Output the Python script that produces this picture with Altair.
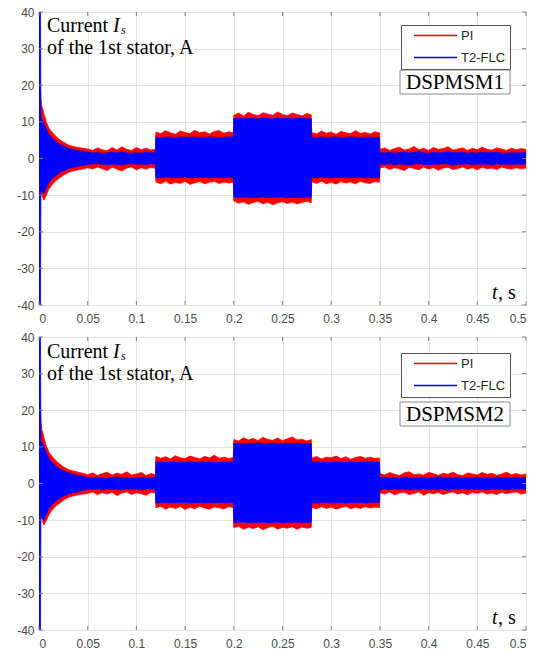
import altair as alt
import pandas as pd

# ---------------- data ----------------
# sample times, s (start transient, low load, mid load, high load, mid load, low load)
T = [0, 0.0015, 0.002, 0.003, 0.004, 0.005, 0.0075, 0.01, 0.0125, 0.015, 0.0175, 0.02, 0.0225, 0.025, 0.0275, 0.03, 0.035, 0.04, 0.045,
     0.05, 0.055, 0.06, 0.065, 0.07, 0.075, 0.08, 0.085, 0.09, 0.095, 0.1, 0.105, 0.11, 0.115, 0.1195,
     0.12, 0.125, 0.13, 0.135, 0.14, 0.145, 0.15, 0.155, 0.16, 0.165, 0.17, 0.175, 0.18, 0.185, 0.19, 0.195, 0.1995,
     0.2, 0.205, 0.21, 0.215, 0.22, 0.225, 0.23, 0.235, 0.24, 0.245, 0.25, 0.255, 0.26, 0.265, 0.27, 0.275, 0.2795,
     0.28, 0.285, 0.29, 0.295, 0.3, 0.305, 0.31, 0.315, 0.32, 0.325, 0.33, 0.335, 0.34, 0.345, 0.3495,
     0.35, 0.355, 0.36, 0.365, 0.37, 0.375, 0.38, 0.385, 0.39, 0.395, 0.4, 0.405, 0.41, 0.415, 0.42, 0.425,
     0.43, 0.435, 0.44, 0.445, 0.45, 0.455, 0.46, 0.465, 0.47, 0.475, 0.48, 0.485, 0.49, 0.495, 0.5]

# DSPMSM1 - envelope of the stator current, A
PI_HI_1 = [18, 18, 16, 14, 13.5, 12.2, 10, 8.4, 7.5, 6.7, 6.0, 5.4, 4.9, 4.5, 4.1, 3.7, 3.3, 3.0, 2.8,
           2.6, 2.2, 2.9, 2.4, 2.1, 3.0, 2.3, 3.2, 2.5, 2.2, 3.0, 2.4, 2.8, 2.3, 2.5,
           7.2, 6.8, 7.6, 7.0, 6.6, 7.5, 7.1, 6.8, 7.7, 7.0, 7.3, 6.7, 7.4, 7.6, 6.9, 7.3, 7.0,
           11.8, 12.4, 11.6, 12.6, 12.0, 11.7, 12.5, 12.1, 11.8, 12.7, 12.0, 11.7, 12.4, 12.0, 11.6, 12.3, 11.9,
           7.1, 6.7, 7.5, 6.9, 7.2, 6.6, 7.4, 7.0, 6.8, 7.6, 6.9, 7.1, 6.7, 7.3, 7.0,
           2.5, 2.9, 2.2, 2.7, 3.1, 2.3, 2.6, 3.3, 2.4, 2.8, 2.2, 3.0, 2.5, 2.7, 3.2, 2.3,
           2.6, 2.9, 2.2, 2.8, 2.4, 3.1, 2.5, 2.3, 2.9, 2.6, 2.2, 2.8, 2.4, 2.7, 2.5]
PI_LO_1 = [-8, -8, -9, -10, -10.8, -11.4, -10, -8.4, -7.5, -6.7, -6.0, -5.5, -5.0, -4.6, -4.2, -3.8, -3.4, -3.1, -2.9,
           -2.5, -2.9, -2.3, -2.8, -3.3, -2.4, -2.9, -3.4, -2.6, -2.3, -3.1, -2.5, -2.9, -2.4, -2.7,
           -6.4, -6.9, -6.2, -7.0, -6.5, -6.8, -6.2, -7.1, -6.6, -6.3, -6.9, -6.5, -6.2, -6.8, -6.4, -6.7, -6.5,
           -11.6, -12.2, -11.8, -12.5, -12.0, -11.7, -12.4, -11.9, -12.6, -12.1, -11.8, -12.3, -11.9, -12.4, -12.0, -11.7, -12.1,
           -6.3, -6.8, -6.2, -6.9, -6.5, -7.0, -6.3, -6.7, -6.4, -6.9, -6.2, -6.6, -6.8, -6.3, -6.5,
           -2.6, -2.3, -3.0, -2.5, -2.8, -3.3, -2.4, -2.7, -3.1, -2.3, -2.9, -2.5, -3.2, -2.6, -2.4, -3.0,
           -2.7, -2.3, -2.9, -2.5, -3.1, -2.4, -2.8, -2.6, -3.0, -2.3, -2.7, -2.9, -2.5, -2.8, -2.6]
FLC_HI_1 = [40, 40, 11, 10.5, 10.2, 9.6, 8.0, 6.6, 5.8, 5.1, 4.6, 4.1, 3.7, 3.4, 3.1, 2.8, 2.4, 2.1, 1.9,
            1.7, 1.5, 1.6, 1.4, 1.5, 1.7, 1.5, 1.8, 1.5, 1.4, 1.6, 1.5, 1.7, 1.5, 1.6,
            5.8, 5.7, 5.9, 5.8, 5.7, 5.9, 5.8, 5.8, 5.9, 5.7, 5.8, 5.9, 5.8, 5.7, 5.8, 5.9, 5.8,
            10.9, 11.0, 10.8, 11.0, 10.9, 10.8, 11.1, 10.9, 10.8, 11.0, 10.9, 11.0, 10.8, 10.9, 11.0, 10.9, 10.8,
            5.8, 5.7, 5.9, 5.7, 5.8, 5.9, 5.7, 5.8, 5.9, 5.8, 5.7, 5.8, 5.9, 5.7, 5.8,
            1.6, 1.5, 1.7, 1.4, 1.6, 1.8, 1.5, 1.6, 1.9, 1.5, 1.4, 1.7, 1.5, 1.6, 2.0, 1.5,
            1.6, 1.7, 1.4, 1.6, 1.5, 1.8, 1.5, 1.6, 1.7, 1.5, 1.4, 1.6, 1.5, 1.6, 1.5]
FLC_LO_1 = [-40, -40, -8, -9, -9.4, -9.5, -8.0, -6.6, -5.8, -5.1, -4.6, -4.1, -3.7, -3.4, -3.1, -2.8, -2.4, -2.1, -1.9,
            -1.6, -1.5, -1.4, -1.6, -1.7, -1.5, -1.6, -1.8, -1.5, -1.4, -1.6, -1.5, -1.6, -1.4, -1.5,
            -5.2, -5.3, -5.1, -5.2, -5.3, -5.2, -5.1, -5.3, -5.2, -5.2, -5.1, -5.3, -5.2, -5.2, -5.3, -5.1, -5.2,
            -10.6, -10.7, -10.5, -10.6, -10.7, -10.6, -10.5, -10.7, -10.6, -10.6, -10.5, -10.7, -10.6, -10.6, -10.7, -10.5, -10.6,
            -5.2, -5.3, -5.1, -5.2, -5.3, -5.2, -5.1, -5.3, -5.2, -5.2, -5.1, -5.3, -5.2, -5.2, -5.3,
            -1.5, -1.6, -1.4, -1.7, -1.5, -1.6, -1.8, -1.5, -1.4, -1.6, -1.7, -1.5, -1.6, -1.4, -1.5, -1.9,
            -1.5, -1.6, -1.4, -1.7, -1.5, -1.6, -1.5, -1.8, -1.4, -1.6, -1.5, -1.7, -1.5, -1.6, -1.5]

# DSPMSM2
PI_HI_2 = [20, 20, 17, 14.5, 13.8, 12.6, 10.3, 8.7, 7.7, 6.9, 6.2, 5.6, 5.1, 4.6, 4.2, 3.8, 3.4, 3.1, 2.8,
           2.4, 2.9, 2.2, 2.7, 3.1, 2.3, 2.8, 2.5, 3.2, 2.3, 2.6, 3.0, 2.2, 2.7, 2.4,
           7.4, 6.9, 7.3, 6.7, 7.6, 7.0, 6.8, 7.5, 7.1, 6.7, 7.4, 7.0, 7.7, 6.9, 7.2, 6.8, 7.1,
           12.0, 11.6, 12.5, 11.9, 12.3, 11.7, 12.6, 12.0, 11.8, 12.4, 11.7, 12.2, 12.7, 11.9, 12.1, 11.6, 12.0,
           6.9, 7.4, 6.7, 7.2, 7.0, 7.5, 6.8, 7.3, 6.6, 7.1, 7.4, 6.9, 7.2, 6.8, 7.0,
           2.7, 2.3, 3.0, 2.5, 2.2, 2.9, 3.2, 2.4, 2.6, 2.3, 3.0, 2.7, 2.2, 2.8, 2.5, 3.1,
           2.4, 2.2, 2.9, 2.6, 2.3, 3.0, 2.5, 2.8, 2.2, 2.6, 3.1, 2.4, 2.7, 2.3, 2.6]
PI_LO_2 = [-7, -7, -8.5, -9.8, -10.6, -11.3, -10.2, -8.6, -7.6, -6.8, -6.1, -5.6, -5.1, -4.6, -4.2, -3.8, -3.4, -3.1, -2.9,
           -2.7, -2.3, -3.0, -2.5, -2.9, -2.4, -3.3, -2.6, -2.3, -3.0, -2.5, -2.8, -3.2, -2.4, -2.6,
           -6.6, -6.2, -7.0, -6.4, -6.8, -6.3, -7.1, -6.5, -6.9, -6.2, -6.7, -7.0, -6.4, -6.6, -6.9, -6.3, -6.6,
           -12.1, -11.7, -12.5, -11.9, -12.3, -11.8, -12.6, -12.0, -11.7, -12.4, -12.0, -12.2, -11.8, -12.5, -11.9, -12.2, -12.0,
           -6.5, -6.9, -6.3, -6.8, -6.4, -7.0, -6.6, -6.2, -6.9, -6.5, -6.8, -6.3, -6.7, -6.4, -6.6,
           -2.5, -2.9, -2.3, -3.1, -2.6, -2.4, -3.0, -2.7, -2.3, -3.2, -2.5, -2.8, -2.4, -3.0, -2.6, -2.3,
           -2.9, -2.5, -3.1, -2.4, -2.7, -2.3, -2.9, -2.6, -3.0, -2.4, -2.8, -2.5, -2.3, -2.9, -2.6]
FLC_HI_2 = [40, 40, 11.5, 11, 10.8, 10.2, 8.4, 6.9, 6.0, 5.3, 4.7, 4.2, 3.8, 3.5, 3.2, 2.9, 2.5, 2.2, 1.9,
            1.6, 1.5, 1.7, 1.5, 1.4, 1.6, 1.8, 1.5, 1.6, 1.4, 1.5, 1.7, 1.5, 1.6, 1.5,
            5.9, 5.8, 5.7, 5.9, 5.8, 5.8, 5.7, 5.9, 5.8, 5.7, 5.9, 5.8, 5.8, 5.7, 5.9, 5.8, 5.8,
            11.0, 10.9, 10.8, 11.0, 10.9, 11.1, 10.8, 10.9, 11.0, 10.9, 10.8, 11.0, 10.9, 11.0, 10.8, 10.9, 11.0,
            5.8, 5.9, 5.7, 5.8, 5.8, 5.9, 5.7, 5.8, 5.9, 5.7, 5.8, 5.8, 5.9, 5.7, 5.8,
            1.5, 1.7, 1.5, 1.6, 1.4, 1.8, 1.5, 1.6, 1.5, 1.7, 1.4, 1.6, 1.9, 1.5, 1.6, 1.5,
            1.7, 1.4, 1.6, 1.5, 1.8, 1.5, 1.6, 1.4, 1.7, 1.5, 1.6, 1.5, 1.7, 1.5, 1.6]
FLC_LO_2 = [-40, -40, -8.5, -9.3, -9.8, -10.2, -8.4, -6.9, -6.0, -5.3, -4.7, -4.2, -3.8, -3.5, -3.2, -2.9, -2.5, -2.2, -1.9,
            -1.5, -1.6, -1.4, -1.7, -1.5, -1.6, -1.5, -1.8, -1.4, -1.6, -1.5, -1.7, -1.5, -1.4, -1.6,
            -5.3, -5.2, -5.1, -5.3, -5.2, -5.2, -5.1, -5.3, -5.2, -5.1, -5.3, -5.2, -5.2, -5.1, -5.3, -5.2, -5.2,
            -10.7, -10.6, -10.5, -10.7, -10.6, -10.6, -10.5, -10.7, -10.6, -10.5, -10.7, -10.6, -10.6, -10.5, -10.7, -10.6, -10.6,
            -5.2, -5.3, -5.1, -5.2, -5.3, -5.2, -5.1, -5.3, -5.2, -5.2, -5.1, -5.3, -5.2, -5.1, -5.2,
            -1.6, -1.5, -1.7, -1.4, -1.6, -1.5, -1.8, -1.5, -1.6, -1.4, -1.7, -1.5, -1.6, -1.5, -1.9, -1.5,
            -1.6, -1.4, -1.7, -1.5, -1.6, -1.5, -1.8, -1.4, -1.6, -1.5, -1.7, -1.5, -1.6, -1.4, -1.5]

SERIES = ["PI", "T2-FLC"]
COLORS = ["#ff0000", "#0000ff"]
X_TICKS = [0, 0.05, 0.1, 0.15, 0.2, 0.25, 0.3, 0.35, 0.4, 0.45, 0.5]
Y_TICKS = [-40, -30, -20, -10, 0, 10, 20, 30, 40]

# ---------------- styling ----------------
W, H = 487, 293
FRAME = "#808080"
GRID = "#e2e2e2"
LABEL = "#4a4a4a"
SERIF = "Liberation Serif"
SANS = "Liberation Sans"

X_AXIS = alt.Axis(values=X_TICKS, tickCount=50, format=".2~f", grid=True, gridColor=GRID,
                  domain=False, ticks=False, labelPadding=8, labelFontSize=12,
                  labelColor=LABEL, labelFont=SANS, labelOverlap=False, minExtent=20, title=None)
Y_AXIS = alt.Axis(values=Y_TICKS, tickCount=50, labelExpr="replace(datum.label, '\u2212', '-')",
                  grid=True, gridColor=GRID, domain=False, ticks=False,
                  labelPadding=5, labelFontSize=12, labelColor=LABEL,
                  labelFont=SANS, labelOverlap=False, minExtent=30, title=None)
X_SCALE = alt.Scale(domain=[0, 0.5], nice=False, zero=False)
Y_SCALE = alt.Scale(domain=[-40, 40], nice=False, zero=False)


def make_frame(pi_hi, pi_lo, flc_hi, flc_lo):
    rows = []
    for name, hi, lo in ((SERIES[0], pi_hi, pi_lo), (SERIES[1], flc_hi, flc_lo)):
        for t, h, l in zip(T, hi, lo, strict=True):
            rows.append({"t": t, "hi": h, "lo": l, "series": name})
    return pd.DataFrame(rows)


def text(txt, x, y, size=20, style="normal", align="left", font=SERIF):
    return alt.Chart(pd.DataFrame({"k": [0]})).mark_text(
        text=txt, font=font, fontSize=size, fontStyle=style, align=align,
        baseline="alphabetic", color="black"
    ).encode(x=alt.value(x), y=alt.value(y))


def panel(df, tag, leg_y, box_y, txt_y):
    scale_c = alt.Scale(domain=SERIES, range=COLORS)
    legend = alt.Legend(
        title=None, orient="none", legendX=362, legendY=leg_y,
        symbolType="stroke", symbolSize=1849, symbolStrokeWidth=1.5,
        clipHeight=13, rowPadding=8, padding=4, symbolOffset=8, labelOffset=3,
        labelFont=SANS, labelFontSize=13, labelColor="#262626",
        strokeColor="#555555", fillColor="white",
    )
    xenc = alt.X("t:Q", scale=X_SCALE, axis=X_AXIS)
    yenc = alt.Y("hi:Q", scale=Y_SCALE, axis=Y_AXIS)
    base = alt.Chart(df)
    red = base.transform_filter(alt.datum.series == SERIES[0]).mark_area(
        fill=COLORS[0], strokeWidth=0.8, clip=True
    ).encode(
        x=xenc, y=yenc, y2="lo:Q",
        stroke=alt.Stroke("series:N", scale=scale_c, legend=legend),
    )
    blue = base.transform_filter(alt.datum.series == SERIES[1]).mark_area(
        fill=COLORS[1], strokeWidth=0.8, clip=True
    ).encode(
        x=xenc, y=yenc, y2="lo:Q",
        stroke=alt.Stroke("series:N", scale=scale_c, legend=legend),
    )
    xt = alt.Chart(pd.DataFrame({"t": X_TICKS}))
    yt = alt.Chart(pd.DataFrame({"hi": Y_TICKS}))
    ticks = [
        xt.mark_rule(color=FRAME).encode(x=xenc, y=alt.value(0), y2=alt.value(4)),
        xt.mark_rule(color=FRAME).encode(x=xenc, y=alt.value(H - 4), y2=alt.value(H)),
        yt.mark_rule(color=FRAME).encode(y=yenc, x=alt.value(0), x2=alt.value(4)),
        yt.mark_rule(color=FRAME).encode(y=yenc, x=alt.value(W - 4), x2=alt.value(W)),
    ]
    box = alt.Chart(pd.DataFrame({"k": [0]})).mark_rect(
        fill="white", stroke="#8a8a8a", strokeWidth=1
    ).encode(x=alt.value(361), x2=alt.value(471), y=alt.value(box_y), y2=alt.value(box_y + 24))
    notes = [
        text("Current", 8, txt_y),
        text("I", 74, txt_y, style="italic"),
        text("s", 82, txt_y + 2, size=12, style="italic"),
        text("of the 1st stator, A", 8, txt_y + 22),
        text("t", 453, H - 6, style="italic"),
        text(", s", 459, H - 6),
        box,
        text(tag, 416, box_y + 19, size=21, align="center"),
    ]
    return alt.layer(red, blue, *ticks, *notes).properties(width=W, height=H)


df1 = make_frame(PI_HI_1, PI_LO_1, FLC_HI_1, FLC_LO_1)
df2 = make_frame(PI_HI_2, PI_LO_2, FLC_HI_2, FLC_LO_2)

chart = alt.vconcat(
    panel(df1, "DSPMSM1", 13, 58, 20),
    panel(df2, "DSPMSM2", 16, 65, 21),
    spacing=32, bounds="flush",
).resolve_scale(
    stroke="independent"
).resolve_legend(
    stroke="independent"
).properties(
    padding={"left": 8, "top": 5, "right": 4, "bottom": 4}
).configure_view(
    stroke=FRAME, strokeWidth=1
).configure(font=SANS)

chart.save("out.html", embed_options={"renderer": "svg", "actions": False})
